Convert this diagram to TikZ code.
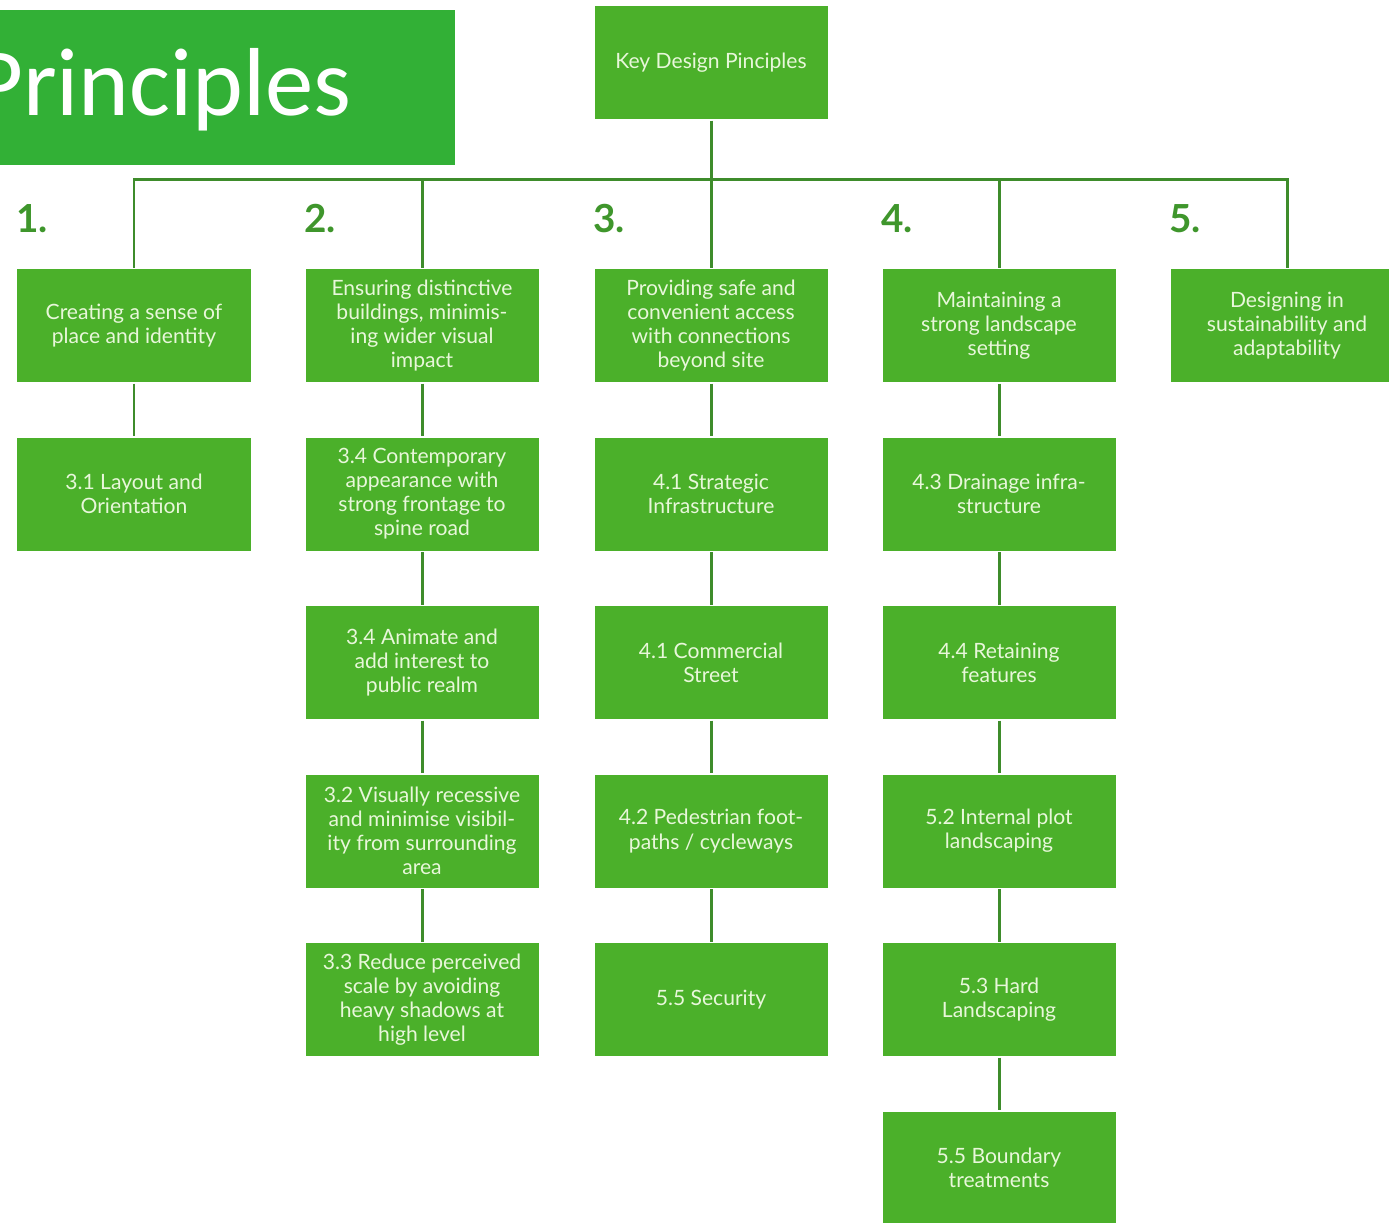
\documentclass[tikz,border=0pt]{standalone}
\usepackage{fontspec}
\usepackage{tikz}
\usetikzlibrary{arrows}
\newfontfamily\boxfont{Lato}
\newfontfamily\titlefont{Carlito}
\definecolor{boxgreen}{HTML}{4BB02A}
\definecolor{titlegreen}{HTML}{32B036}
\definecolor{linegreen}{HTML}{3E8C2B}
\definecolor{numgreen}{HTML}{3F962C}
\definecolor{boxtext}{HTML}{E8F7DA}

\begin{document}
\begin{tikzpicture}[>=stealth, node distance=3.37cm]
	\tikzstyle{box} = [fill=boxgreen, text=boxtext, minimum width=4.66cm, minimum height=2.26cm, inner sep=0pt, align=center, font=\boxfont\fontsize{12}{13.7}\selectfont]
	\tikzstyle{num} = [anchor=base west, inner sep=0pt, text=numgreen, font=\boxfont\bfseries\fontsize{22}{22}\selectfont]
	\tikzstyle{link} = [draw=linegreen, line width=1.7pt]
	\useasboundingbox (0,0) rectangle (27.78,-24.44);
	\clip (0,0) rectangle (27.78,-24.44);

	% title banner, cut at the left edge
	\node[fill=titlegreen, minimum width=9.1cm, minimum height=3.1cm, inner sep=0pt, anchor=north west] (banner) at (0,-0.2) {};
	\node[anchor=base east, inner sep=0pt, text=white, font=\titlefont\fontsize{55}{55}\selectfont] (title) at (7.04,-2.3) {Principles};

	\path[link]
	node[box] (key) at (14.22,-1.25) {Key Design Pinciples}
	coordinate (bar) at (14.22,-3.58)

	% column 1
	node[box] (c1) at (2.68,-6.51) {Creating a sense of\\place and identity}
	node[box, below of=c1] (c1a) {3.1 Layout and\\Orientation}

	% column 2
	node[box] (c2) at (8.44,-6.51) {Ensuring distinctive\\buildings, minimis-\\ing wider visual\\impact}
	node[box, below of=c2] (c2a) {3.4 Contemporary\\appearance with\\strong frontage to\\spine road}
	node[box, below of=c2a] (c2b) {3.4 Animate and\\add interest to\\public realm}
	node[box, below of=c2b] (c2c) {3.2 Visually recessive\\and minimise visibil-\\ity from surrounding\\area}
	node[box, below of=c2c] (c2d) {3.3 Reduce perceived\\scale by avoiding\\heavy shadows at\\high level}

	% column 3
	node[box] (c3) at (14.22,-6.51) {Providing safe and\\convenient access\\with connections\\beyond site}
	node[box, below of=c3] (c3a) {4.1 Strategic\\Infrastructure}
	node[box, below of=c3a] (c3b) {4.1 Commercial\\Street}
	node[box, below of=c3b] (c3c) {4.2 Pedestrian foot-\\paths / cycleways}
	node[box, below of=c3c] (c3d) {5.5 Security}

	% column 4
	node[box] (c4) at (19.98,-6.51) {Maintaining a\\strong landscape\\setting}
	node[box, below of=c4] (c4a) {4.3 Drainage infra-\\structure}
	node[box, below of=c4a] (c4b) {4.4 Retaining\\features}
	node[box, below of=c4b] (c4c) {5.2 Internal plot\\landscaping}
	node[box, below of=c4c] (c4d) {5.3 Hard\\Landscaping}
	node[box, below of=c4d] (c4e) {5.5 Boundary\\treatments}

	% column 5
	node[box] (c5) at (25.74,-6.51) {Designing in\\sustainability and\\adaptability}

	(key) edge[link] (bar)
	(c1) edge[link] (c1a)
	(c2) edge[link] (c2a)
	(c2a) edge[link] (c2b)
	(c2b) edge[link] (c2c)
	(c2c) edge[link] (c2d)
	(c3) edge[link] (c3a)
	(c3a) edge[link] (c3b)
	(c3b) edge[link] (c3c)
	(c3c) edge[link] (c3d)
	(c4) edge[link] (c4a)
	(c4a) edge[link] (c4b)
	(c4b) edge[link] (c4c)
	(c4c) edge[link] (c4d)
	(c4d) edge[link] (c4e)
	;

	% numbers above the columns
	\foreach \c/\n in {c1/1, c2/2, c3/3, c4/4, c5/5}
	{
		\draw[link] (\c) |- (bar);
		\node[num] (n\n) at (\c.west |- 0,-4.64) {\n.};
	}
\end{tikzpicture}
\end{document}
